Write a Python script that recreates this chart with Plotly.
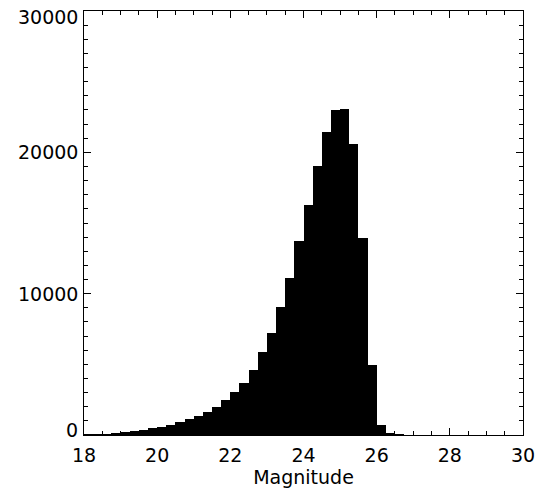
import plotly.graph_objects as go

# Histogram data: left bin edges (magnitude) and counts
bin_width = 0.25
bin_left = [18.0, 18.25, 18.5, 18.75, 19.0, 19.25, 19.5, 19.75, 20.0, 20.25,
            20.5, 20.75, 21.0, 21.25, 21.5, 21.75, 22.0, 22.25, 22.5, 22.75,
            23.0, 23.25, 23.5, 23.75, 24.0, 24.25, 24.5, 24.75, 25.0, 25.25,
            25.5, 25.75, 26.0, 26.25, 26.5]
counts = [15, 30, 70, 110, 180, 250, 350, 470, 590, 730,
          890, 1100, 1350, 1650, 1950, 2500, 3050, 3700, 4600, 5850,
          7200, 9050, 11100, 13700, 16300, 19050, 21450, 23000, 23100, 20600,
          13950, 4950, 700, 150, 20]

x_ticks = [18, 20, 22, 24, 26, 28, 30]
x_ticklabels = ["18", "20", "22", "24", "26", "28", "30"]
y_ticks = [0, 10000, 20000, 30000]
y_ticklabels = ["0", "10000", "20000", "30000"]

y_min, y_max = 0, 30000
centers = [b + bin_width / 2 for b in bin_left]

fig = go.Figure(go.Bar(
    x=centers, y=counts, width=bin_width,
    marker=dict(color="black", line=dict(width=0)),
    hoverinfo="skip",
))

font = dict(family="DejaVu Sans", size=19, color="black")

fig.update_layout(
    width=537, height=489,
    margin=dict(l=84, r=14, t=11, b=54),
    paper_bgcolor="white", plot_bgcolor="white",
    showlegend=False, bargap=0,
    font=font,
)
fig.update_xaxes(
    range=[18, 30], tickmode="array", tickvals=x_ticks, ticktext=x_ticklabels,
    ticks="inside", ticklen=7, tickwidth=1, tickcolor="black",
    minor=dict(dtick=0.5, ticks="inside", ticklen=4, tickcolor="black", tickwidth=1),
    showline=True, linecolor="black", linewidth=1, mirror="allticks",
    showgrid=False, zeroline=False,
    title=dict(text="Magnitude", font=font, standoff=3),
    tickfont=font, automargin=False, ticklabelstandoff=3,
    ticklabeloverflow="allow",
)
fig.update_yaxes(
    range=[y_min, y_max], tickmode="array", tickvals=y_ticks, ticktext=y_ticklabels,
    ticks="inside", ticklen=7, tickwidth=1, tickcolor="black",
    minor=dict(dtick=1000, ticks="inside", ticklen=4, tickcolor="black", tickwidth=1),
    showline=True, linecolor="black", linewidth=1, mirror="allticks",
    showgrid=False, zeroline=False, showticklabels=False,
    automargin=False,
)

# y tick labels as annotations (end labels nudged inward, as in the reference)
for v, t in zip(y_ticks, y_ticklabels):
    shift = 0
    if v == y_max:
        shift = -6
    elif v == y_min:
        shift = 5
    fig.add_annotation(
        x=0, xref="paper", y=v, yref="y", text=t, showarrow=False,
        xanchor="right", yanchor="middle", xshift=-4, yshift=shift, font=font,
    )

fig.write_html("out.html")
